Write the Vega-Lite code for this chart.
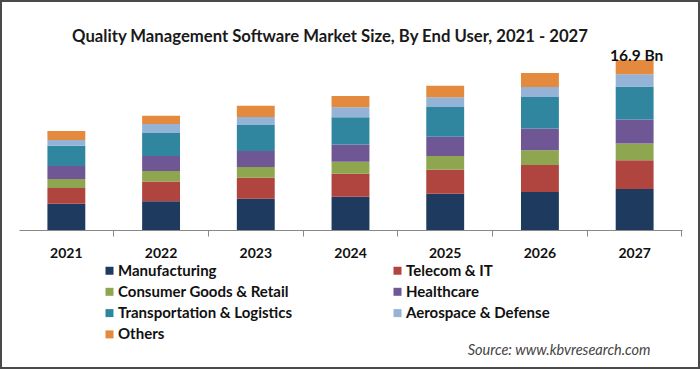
{
  "$schema": "https://vega.github.io/schema/vega-lite/v6.json",
  "autosize": "none",
  "width": 698,
  "height": 367,
  "padding": 1,
  "background": "white",
  "config": {"view": {"stroke": "#4a4a4a", "strokeWidth": 2}, "font": "Lato"},
  "title": {"text": "Quality Management Software Market Size, By End User, 2021 - 2027", "fontSize": 16.7, "fontWeight": "bold", "font": "Lato", "color": "#1a1a1a", "anchor": "middle", "frame": "group", "offset": -45, "dx": -20},
  "datasets": {
    "segments": [
      {"year": "2021", "segment": "Manufacturing", "value": 2.61},
      {"year": "2021", "segment": "Telecom & IT", "value": 1.56},
      {"year": "2021", "segment": "Consumer Goods & Retail", "value": 0.89},
      {"year": "2021", "segment": "Healthcare", "value": 1.29},
      {"year": "2021", "segment": "Transportation & Logistics", "value": 2.02},
      {"year": "2021", "segment": "Aerospace & Defense", "value": 0.57},
      {"year": "2021", "segment": "Others", "value": 0.89},
      {"year": "2022", "segment": "Manufacturing", "value": 2.85},
      {"year": "2022", "segment": "Telecom & IT", "value": 1.96},
      {"year": "2022", "segment": "Consumer Goods & Retail", "value": 1.06},
      {"year": "2022", "segment": "Healthcare", "value": 1.49},
      {"year": "2022", "segment": "Transportation & Logistics", "value": 2.29},
      {"year": "2022", "segment": "Aerospace & Defense", "value": 0.89},
      {"year": "2022", "segment": "Others", "value": 0.83},
      {"year": "2023", "segment": "Manufacturing", "value": 3.11},
      {"year": "2023", "segment": "Telecom & IT", "value": 2.09},
      {"year": "2023", "segment": "Consumer Goods & Retail", "value": 1.06},
      {"year": "2023", "segment": "Healthcare", "value": 1.59},
      {"year": "2023", "segment": "Transportation & Logistics", "value": 2.58},
      {"year": "2023", "segment": "Aerospace & Defense", "value": 0.80},
      {"year": "2023", "segment": "Others", "value": 1.12},
      {"year": "2024", "segment": "Manufacturing", "value": 3.31},
      {"year": "2024", "segment": "Telecom & IT", "value": 2.29},
      {"year": "2024", "segment": "Consumer Goods & Retail", "value": 1.19},
      {"year": "2024", "segment": "Healthcare", "value": 1.72},
      {"year": "2024", "segment": "Transportation & Logistics", "value": 2.71},
      {"year": "2024", "segment": "Aerospace & Defense", "value": 0.99},
      {"year": "2024", "segment": "Others", "value": 1.12},
      {"year": "2025", "segment": "Manufacturing", "value": 3.61},
      {"year": "2025", "segment": "Telecom & IT", "value": 2.39},
      {"year": "2025", "segment": "Consumer Goods & Retail", "value": 1.36},
      {"year": "2025", "segment": "Healthcare", "value": 1.92},
      {"year": "2025", "segment": "Transportation & Logistics", "value": 2.95},
      {"year": "2025", "segment": "Aerospace & Defense", "value": 0.96},
      {"year": "2025", "segment": "Others", "value": 1.16},
      {"year": "2026", "segment": "Manufacturing", "value": 3.78},
      {"year": "2026", "segment": "Telecom & IT", "value": 2.68},
      {"year": "2026", "segment": "Consumer Goods & Retail", "value": 1.46},
      {"year": "2026", "segment": "Healthcare", "value": 2.16},
      {"year": "2026", "segment": "Transportation & Logistics", "value": 3.15},
      {"year": "2026", "segment": "Aerospace & Defense", "value": 0.99},
      {"year": "2026", "segment": "Others", "value": 1.39},
      {"year": "2027", "segment": "Manufacturing", "value": 4.08},
      {"year": "2027", "segment": "Telecom & IT", "value": 2.85},
      {"year": "2027", "segment": "Consumer Goods & Retail", "value": 1.66},
      {"year": "2027", "segment": "Healthcare", "value": 2.39},
      {"year": "2027", "segment": "Transportation & Logistics", "value": 3.28},
      {"year": "2027", "segment": "Aerospace & Defense", "value": 1.22},
      {"year": "2027", "segment": "Others", "value": 1.42}
    ],
    "totals": [
      {"year": "2027", "total": 16.9, "label": "16.9 Bn"}
    ]
  },
  "layer": [
    {
      "data": {"name": "segments"},
      "transform": [
        {"calculate": "indexof(['Manufacturing', 'Telecom & IT', 'Consumer Goods & Retail', 'Healthcare', 'Transportation & Logistics', 'Aerospace & Defense', 'Others'], datum.segment)", "as": "stackRank"}
      ],
      "mark": {"type": "bar", "width": {"band": 0.4}},
      "encoding": {
        "x": {
          "field": "year", "type": "nominal",
          "scale": {"range": [18, 681], "paddingInner": 0, "paddingOuter": 0},
          "axis": {
            "orient": "bottom", "offset": -138, "bandPosition": 1, "labelAngle": 0,
            "labelFontSize": 14, "labelFontWeight": "bold", "labelColor": "#111", "labelPadding": 10,
            "tickSize": 6, "tickColor": "#888", "domainColor": "#888",
            "title": "Source: www.kbvresearch.com", "titleFontStyle": "italic", "titleFontWeight": "normal",
            "titleFontSize": 14.5, "titleColor": "#444", "titleX": 649, "titleY": 124,
            "titleAlign": "right", "titleBaseline": "alphabetic", "titleAnchor": null
          }
        },
        "y": {
          "field": "value", "type": "quantitative", "stack": "zero",
          "scale": {"domain": [0, 16.9], "range": [229, 59], "nice": false},
          "axis": null
        },
        "order": {"field": "stackRank", "type": "quantitative", "sort": "ascending"},
        "color": {
          "field": "segment", "type": "nominal",
          "scale": {
            "domain": ["Manufacturing", "Telecom & IT", "Consumer Goods & Retail", "Healthcare", "Transportation & Logistics", "Aerospace & Defense", "Others"],
            "range": ["#1e3a5f", "#b0443f", "#8ea64f", "#6f5796", "#31869f", "#95b3d7", "#e38a3f"]
          },
          "legend": {
            "orient": "none", "legendX": 101, "legendY": 262, "columns": 2, "direction": "horizontal", "title": null,
            "symbolType": "square", "symbolSize": 64, "symbolStrokeWidth": 0,
            "labelFontSize": 15, "labelFontWeight": "bold", "labelColor": "#111", "labelFont": "Lato",
            "rowPadding": 5.3, "columnPadding": 97, "gridAlign": "all", "labelOffset": 1, "labelLimit": 300
          }
        }
      }
    },
    {
      "data": {"name": "totals"},
      "mark": {"type": "text", "fontSize": 15.5, "fontWeight": "bold", "color": "#111", "baseline": "bottom", "dy": 4, "dx": 2},
      "encoding": {
        "x": {"field": "year", "type": "nominal"},
        "y": {"field": "total", "type": "quantitative"},
        "text": {"field": "label"}
      }
    }
  ]
}
